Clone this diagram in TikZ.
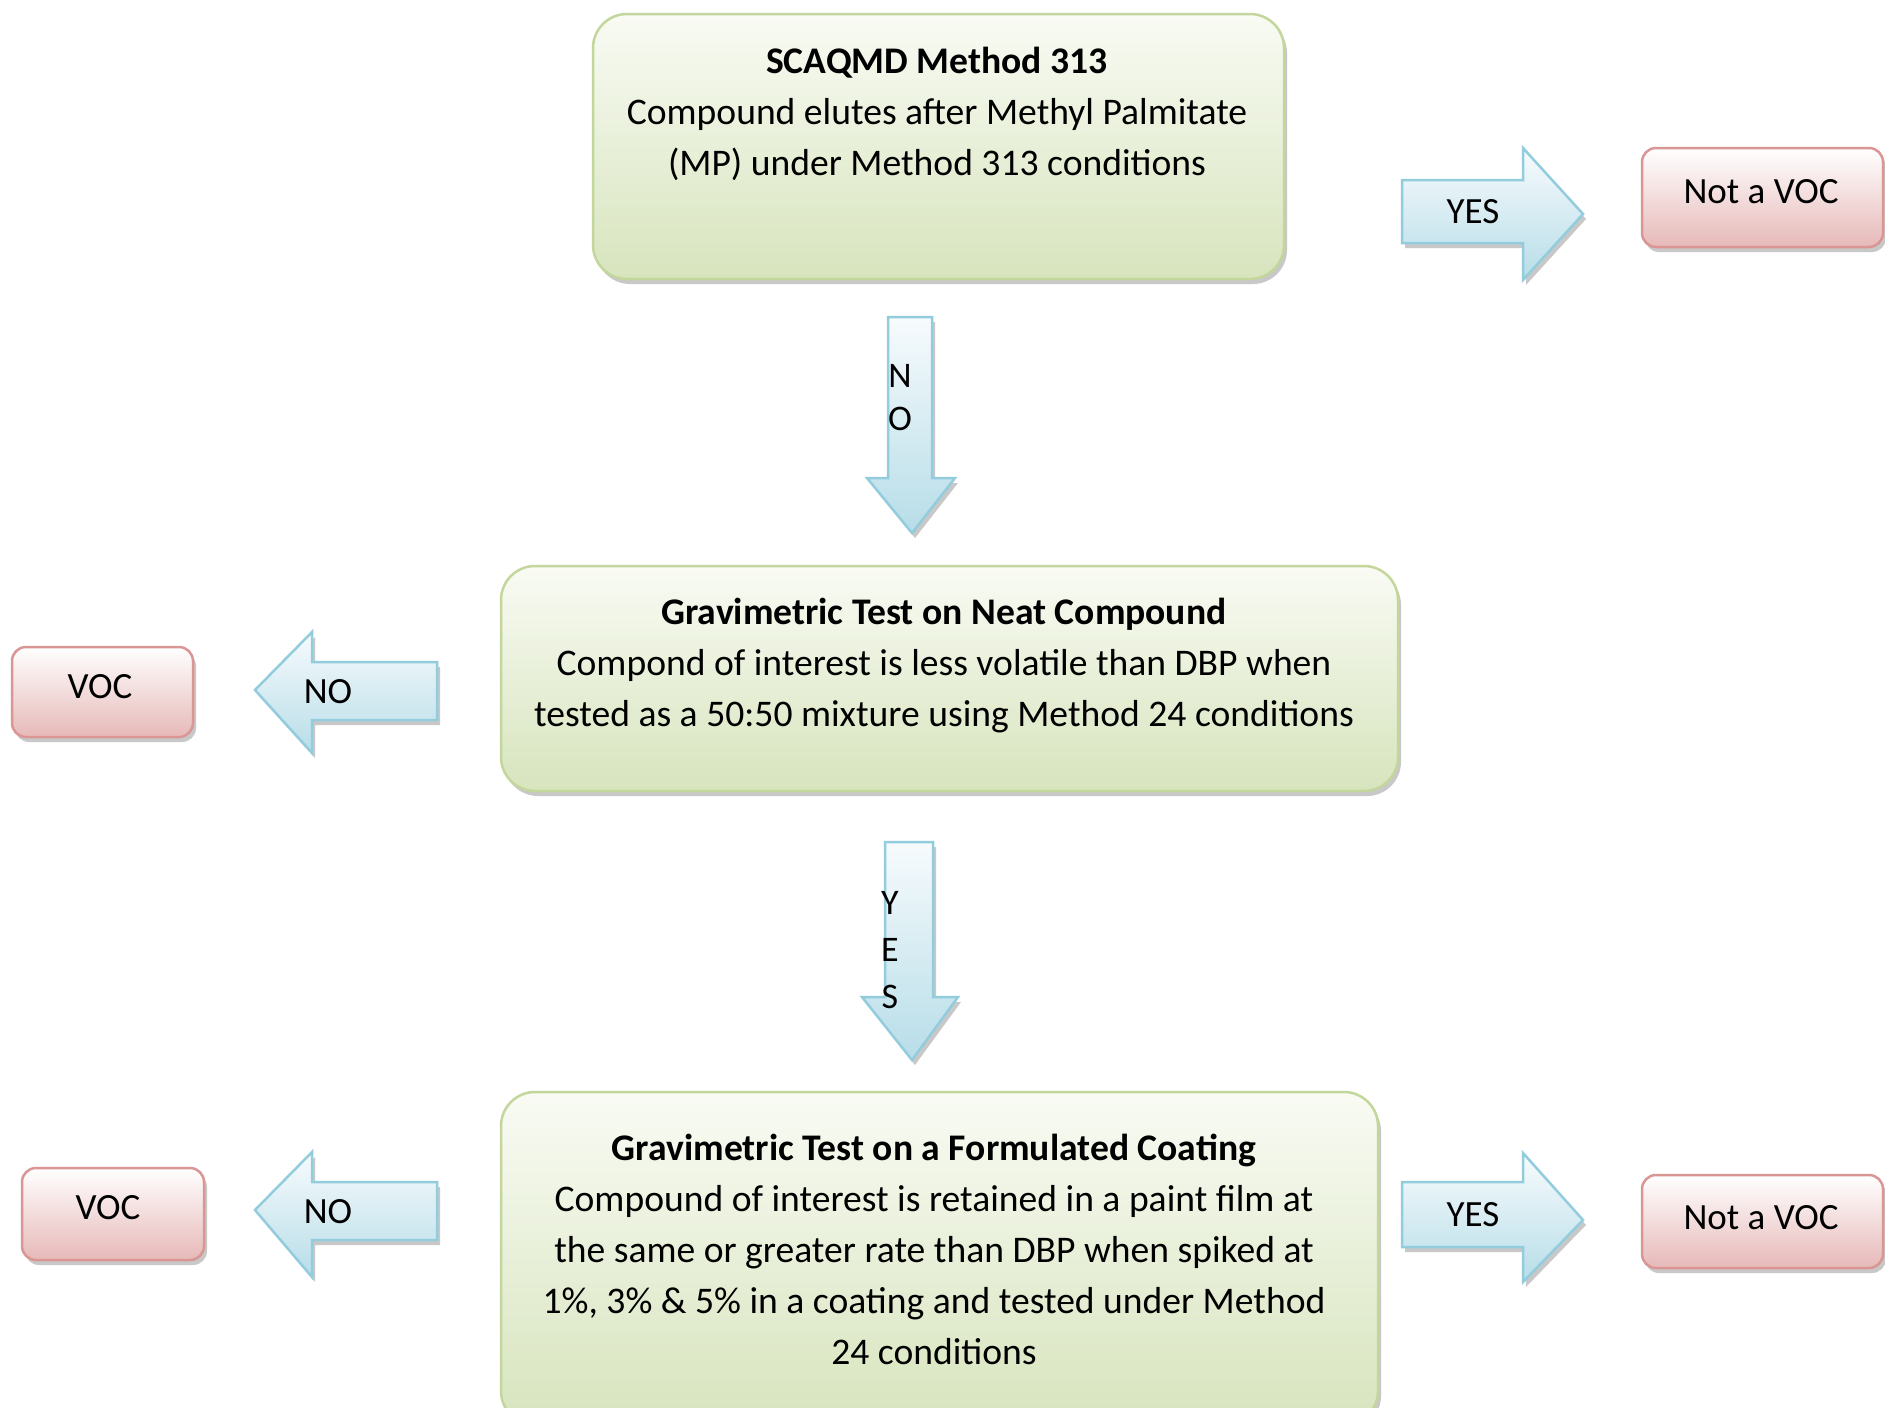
\documentclass[tikz,border=0pt]{standalone}
\usepackage{fontspec}
\setmainfont{Carlito}
\usetikzlibrary{shadows}
\definecolor{gbord}{HTML}{C3D69B}
\definecolor{gtop}{HTML}{F9FBF4}
\definecolor{gbot}{HTML}{D7E4BD}
\definecolor{rbord}{HTML}{D99694}
\definecolor{rtop}{HTML}{FFFFFF}
\definecolor{rbot}{HTML}{E6B9B8}
\definecolor{bbord}{HTML}{93CDDD}
\definecolor{btop}{HTML}{F7FBFD}
\definecolor{bbot}{HTML}{B7DDE8}
\tikzset{
  shad/.style={drop shadow={shadow xshift=3pt, shadow yshift=-5pt, fill=black!70, opacity=0.3}},
  gbox/.style={shad, draw=gbord, line width=2.5pt, rounded corners=34pt, top color=gtop, bottom color=gbot, inner sep=0pt},
  rbox/.style={shad, draw=rbord, line width=2.5pt, rounded corners=14pt, top color=rtop, bottom color=rbot, inner sep=0pt},
  barrow/.style={shad, draw=bbord, line width=2.5pt, top color=btop, bottom color=bbot, line join=miter},
  txt/.style={font=\fontsize{37.6}{51}\selectfont, align=center, inner sep=0pt, text=black},
  lbl/.style={font=\fontsize{37}{43}\selectfont, align=center, inner sep=0pt, text=black},
}
\begin{document}
\begin{tikzpicture}[x=1pt,y=-1pt]
\useasboundingbox (0,0) rectangle (1885,1408);
\clip (0,0) rectangle (1885,1408);
\fill[white] (0,0) rectangle (1885,1408);

% green boxes
\node[gbox, minimum width=691pt, minimum height=265pt] (b1) at (938.5,146.5) {};
\node[txt] (t1) at (937,114) {\textbf{SCAQMD Method 313}\\Compound elutes after Methyl Palmitate\\(MP) under Method 313 conditions};

\node[gbox, minimum width=897pt, minimum height=225pt] (b2) at (949.5,678.5) {};
\node[txt] (t2) at (944,666) {\textbf{Gravimetric Test on Neat Compound}\\Compond of interest is less volatile than DBP when\\tested as a 50:50 mixture using Method 24 conditions};

\node[gbox, minimum width=877pt, minimum height=333pt] (b3) at (939.5,1258.5) {};
\node[txt] (t3) at (934,1249) {\textbf{Gravimetric Test on a Formulated Coating}\\Compound of interest is retained in a paint film at\\the same or greater rate than DBP when spiked at\\1\%, 3\% \& 5\% in a coating and tested under Method\\24 conditions};

% red boxes
\node[rbox, minimum width=241pt, minimum height=99pt] (r1) at (1762.5,197.5) {};
\node[lbl] (rt1) at (1761,192) {Not a VOC};
\node[rbox, minimum width=181pt, minimum height=90pt] (r2) at (102.5,692) {};
\node[lbl] (rt2) at (100,687) {VOC};
\node[rbox, minimum width=182pt, minimum height=92pt] (r3) at (113,1214) {};
\node[lbl] (rt3) at (108,1208) {VOC};
\node[rbox, minimum width=241pt, minimum height=93pt] (r4) at (1762.5,1221.5) {};
\node[lbl] (rt4) at (1761,1218) {Not a VOC};

% arrows
\path[barrow] (1402,180) -- (1523,180) -- (1523,148) -- (1583,214) -- (1523,280) -- (1523,243) -- (1402,243) -- cycle;
\node[lbl] (a1) at (1473,212) {YES};

\path[barrow] (888,317) -- (932,317) -- (932,478) -- (955,478) -- (912,533) -- (867,478) -- (888,478) -- cycle;
\node[lbl, font=\fontsize{36}{43}\selectfont] (a2) at (900,398) {N\\O};

\path[barrow] (437,662) -- (312,662) -- (312,632) -- (255,690) -- (312,753) -- (312,720) -- (437,720) -- cycle;
\node[lbl] (a3) at (328,692) {NO};

\path[barrow] (885,842) -- (933,842) -- (933,997) -- (958,997) -- (912,1060) -- (862,997) -- (885,997) -- cycle;
\node[lbl, font=\fontsize{36}{47}\selectfont] (a4) at (890,950) {Y\\E\\S};

\path[barrow] (437,1182) -- (312,1182) -- (312,1152) -- (255,1210) -- (312,1277) -- (312,1240) -- (437,1240) -- cycle;
\node[lbl] (a5) at (328,1212) {NO};

\path[barrow] (1402,1182) -- (1523,1182) -- (1523,1153) -- (1583,1220) -- (1523,1282) -- (1523,1247) -- (1402,1247) -- cycle;
\node[lbl] (a6) at (1473,1215) {YES};
\end{tikzpicture}
\end{document}
